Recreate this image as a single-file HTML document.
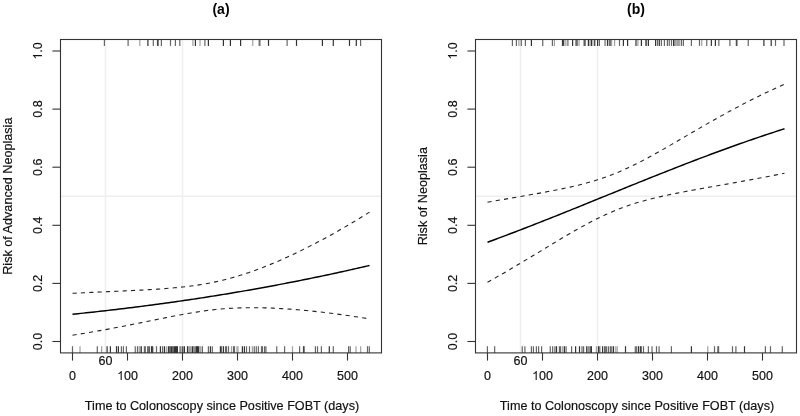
<!DOCTYPE html>
<html><head><meta charset="utf-8"><style>
html,body{margin:0;padding:0;background:#fff;width:800px;height:416px;overflow:hidden}
svg{display:block;filter:blur(0.4px)}
</style></head><body>
<svg width="800" height="416" viewBox="0 0 800 416"><rect width="800" height="416" fill="#fff"/><g stroke="#eeeeee" stroke-width="1.5" fill="none"><line x1="105.50" y1="39.5" x2="105.50" y2="352.9"/><line x1="182.50" y1="39.5" x2="182.50" y2="352.9"/><line x1="60.5" y1="196.25" x2="381.5" y2="196.25"/></g><g stroke-width="1.2"><line x1="104.40" y1="39.5" x2="104.40" y2="45.9" stroke="#666"/><line x1="128.10" y1="39.5" x2="128.10" y2="45.9" stroke="#666"/><line x1="139.80" y1="39.5" x2="139.80" y2="45.9" stroke="#a0a0a0"/><line x1="147.90" y1="39.5" x2="147.90" y2="45.9" stroke="#333"/><line x1="153.30" y1="39.5" x2="153.30" y2="45.9" stroke="#666"/><line x1="157.50" y1="39.5" x2="157.50" y2="45.9" stroke="#333"/><line x1="158.20" y1="39.5" x2="158.20" y2="45.9" stroke="#666"/><line x1="161.40" y1="39.5" x2="161.40" y2="45.9" stroke="#666"/><line x1="170.50" y1="39.5" x2="170.50" y2="45.9" stroke="#666"/><line x1="175.40" y1="39.5" x2="175.40" y2="45.9" stroke="#666"/><line x1="179.80" y1="39.5" x2="179.80" y2="45.9" stroke="#666"/><line x1="192.90" y1="39.5" x2="192.90" y2="45.9" stroke="#a0a0a0"/><line x1="195.40" y1="39.5" x2="195.40" y2="45.9" stroke="#333"/><line x1="200.00" y1="39.5" x2="200.00" y2="45.9" stroke="#a0a0a0"/><line x1="204.90" y1="39.5" x2="204.90" y2="45.9" stroke="#666"/><line x1="208.40" y1="39.5" x2="208.40" y2="45.9" stroke="#333"/><line x1="223.40" y1="39.5" x2="223.40" y2="45.9" stroke="#333"/><line x1="230.40" y1="39.5" x2="230.40" y2="45.9" stroke="#333"/><line x1="240.60" y1="39.5" x2="240.60" y2="45.9" stroke="#333"/><line x1="252.75" y1="39.5" x2="252.75" y2="45.9" stroke="#a0a0a0"/><line x1="259.20" y1="39.5" x2="259.20" y2="45.9" stroke="#666"/><line x1="259.90" y1="39.5" x2="259.90" y2="45.9" stroke="#666"/><line x1="268.50" y1="39.5" x2="268.50" y2="45.9" stroke="#333"/><line x1="287.10" y1="39.5" x2="287.10" y2="45.9" stroke="#666"/><line x1="296.50" y1="39.5" x2="296.50" y2="45.9" stroke="#333"/><line x1="322.40" y1="39.5" x2="322.40" y2="45.9" stroke="#333"/><line x1="333.30" y1="39.5" x2="333.30" y2="45.9" stroke="#333"/><line x1="349.50" y1="39.5" x2="349.50" y2="45.9" stroke="#333"/><line x1="356.30" y1="39.5" x2="356.30" y2="45.9" stroke="#333"/><line x1="360.60" y1="39.5" x2="360.60" y2="45.9" stroke="#666"/><line x1="72.50" y1="346.2" x2="72.50" y2="352.9" stroke="#666"/><line x1="80.00" y1="346.2" x2="80.00" y2="352.9" stroke="#a0a0a0"/><line x1="97.30" y1="346.2" x2="97.30" y2="352.9" stroke="#666"/><line x1="101.60" y1="346.2" x2="101.60" y2="352.9" stroke="#a0a0a0"/><line x1="107.10" y1="346.2" x2="107.10" y2="352.9" stroke="#333"/><line x1="110.40" y1="346.2" x2="110.40" y2="352.9" stroke="#333"/><line x1="116.50" y1="346.2" x2="116.50" y2="352.9" stroke="#333"/><line x1="118.40" y1="346.2" x2="118.40" y2="352.9" stroke="#333"/><line x1="121.40" y1="346.2" x2="121.40" y2="352.9" stroke="#666"/><line x1="123.40" y1="346.2" x2="123.40" y2="352.9" stroke="#666"/><line x1="126.40" y1="346.2" x2="126.40" y2="352.9" stroke="#666"/><line x1="135.25" y1="346.2" x2="135.25" y2="352.9" stroke="#666"/><line x1="137.50" y1="346.2" x2="137.50" y2="352.9" stroke="#666"/><line x1="139.20" y1="346.2" x2="139.20" y2="352.9" stroke="#a0a0a0"/><line x1="140.10" y1="346.2" x2="140.10" y2="352.9" stroke="#a0a0a0"/><line x1="141.30" y1="346.2" x2="141.30" y2="352.9" stroke="#333"/><line x1="144.40" y1="346.2" x2="144.40" y2="352.9" stroke="#666"/><line x1="145.30" y1="346.2" x2="145.30" y2="352.9" stroke="#666"/><line x1="147.90" y1="346.2" x2="147.90" y2="352.9" stroke="#333"/><line x1="149.20" y1="346.2" x2="149.20" y2="352.9" stroke="#333"/><line x1="151.50" y1="346.2" x2="151.50" y2="352.9" stroke="#333"/><line x1="152.70" y1="346.2" x2="152.70" y2="352.9" stroke="#333"/><line x1="156.50" y1="346.2" x2="156.50" y2="352.9" stroke="#666"/><line x1="160.40" y1="346.2" x2="160.40" y2="352.9" stroke="#333"/><line x1="162.50" y1="346.2" x2="162.50" y2="352.9" stroke="#666"/><line x1="164.40" y1="346.2" x2="164.40" y2="352.9" stroke="#333"/><line x1="166.25" y1="346.2" x2="166.25" y2="352.9" stroke="#a0a0a0"/><line x1="168.40" y1="346.2" x2="168.40" y2="352.9" stroke="#333"/><line x1="169.50" y1="346.2" x2="169.50" y2="352.9" stroke="#666"/><line x1="170.50" y1="346.2" x2="170.50" y2="352.9" stroke="#666"/><line x1="171.60" y1="346.2" x2="171.60" y2="352.9" stroke="#333"/><line x1="172.60" y1="346.2" x2="172.60" y2="352.9" stroke="#666"/><line x1="173.60" y1="346.2" x2="173.60" y2="352.9" stroke="#666"/><line x1="174.60" y1="346.2" x2="174.60" y2="352.9" stroke="#333"/><line x1="175.60" y1="346.2" x2="175.60" y2="352.9" stroke="#333"/><line x1="176.60" y1="346.2" x2="176.60" y2="352.9" stroke="#333"/><line x1="177.40" y1="346.2" x2="177.40" y2="352.9" stroke="#333"/><line x1="179.70" y1="346.2" x2="179.70" y2="352.9" stroke="#a0a0a0"/><line x1="180.90" y1="346.2" x2="180.90" y2="352.9" stroke="#666"/><line x1="182.80" y1="346.2" x2="182.80" y2="352.9" stroke="#333"/><line x1="184.40" y1="346.2" x2="184.40" y2="352.9" stroke="#333"/><line x1="187.50" y1="346.2" x2="187.50" y2="352.9" stroke="#333"/><line x1="188.70" y1="346.2" x2="188.70" y2="352.9" stroke="#a0a0a0"/><line x1="190.00" y1="346.2" x2="190.00" y2="352.9" stroke="#666"/><line x1="191.30" y1="346.2" x2="191.30" y2="352.9" stroke="#a0a0a0"/><line x1="192.60" y1="346.2" x2="192.60" y2="352.9" stroke="#333"/><line x1="194.00" y1="346.2" x2="194.00" y2="352.9" stroke="#666"/><line x1="195.20" y1="346.2" x2="195.20" y2="352.9" stroke="#666"/><line x1="196.50" y1="346.2" x2="196.50" y2="352.9" stroke="#333"/><line x1="197.50" y1="346.2" x2="197.50" y2="352.9" stroke="#333"/><line x1="198.40" y1="346.2" x2="198.40" y2="352.9" stroke="#333"/><line x1="199.80" y1="346.2" x2="199.80" y2="352.9" stroke="#a0a0a0"/><line x1="200.70" y1="346.2" x2="200.70" y2="352.9" stroke="#a0a0a0"/><line x1="202.40" y1="346.2" x2="202.40" y2="352.9" stroke="#666"/><line x1="208.40" y1="346.2" x2="208.40" y2="352.9" stroke="#666"/><line x1="210.40" y1="346.2" x2="210.40" y2="352.9" stroke="#333"/><line x1="212.30" y1="346.2" x2="212.30" y2="352.9" stroke="#666"/><line x1="220.40" y1="346.2" x2="220.40" y2="352.9" stroke="#333"/><line x1="221.50" y1="346.2" x2="221.50" y2="352.9" stroke="#666"/><line x1="223.40" y1="346.2" x2="223.40" y2="352.9" stroke="#333"/><line x1="225.50" y1="346.2" x2="225.50" y2="352.9" stroke="#666"/><line x1="226.50" y1="346.2" x2="226.50" y2="352.9" stroke="#666"/><line x1="228.50" y1="346.2" x2="228.50" y2="352.9" stroke="#666"/><line x1="231.50" y1="346.2" x2="231.50" y2="352.9" stroke="#a0a0a0"/><line x1="233.50" y1="346.2" x2="233.50" y2="352.9" stroke="#666"/><line x1="234.50" y1="346.2" x2="234.50" y2="352.9" stroke="#666"/><line x1="237.00" y1="346.2" x2="237.00" y2="352.9" stroke="#a0a0a0"/><line x1="238.00" y1="346.2" x2="238.00" y2="352.9" stroke="#a0a0a0"/><line x1="242.40" y1="346.2" x2="242.40" y2="352.9" stroke="#333"/><line x1="244.40" y1="346.2" x2="244.40" y2="352.9" stroke="#333"/><line x1="246.50" y1="346.2" x2="246.50" y2="352.9" stroke="#666"/><line x1="249.50" y1="346.2" x2="249.50" y2="352.9" stroke="#666"/><line x1="252.40" y1="346.2" x2="252.40" y2="352.9" stroke="#a0a0a0"/><line x1="254.25" y1="346.2" x2="254.25" y2="352.9" stroke="#666"/><line x1="256.30" y1="346.2" x2="256.30" y2="352.9" stroke="#666"/><line x1="258.40" y1="346.2" x2="258.40" y2="352.9" stroke="#666"/><line x1="261.50" y1="346.2" x2="261.50" y2="352.9" stroke="#666"/><line x1="262.50" y1="346.2" x2="262.50" y2="352.9" stroke="#666"/><line x1="264.60" y1="346.2" x2="264.60" y2="352.9" stroke="#666"/><line x1="265.90" y1="346.2" x2="265.90" y2="352.9" stroke="#666"/><line x1="276.75" y1="346.2" x2="276.75" y2="352.9" stroke="#666"/><line x1="284.60" y1="346.2" x2="284.60" y2="352.9" stroke="#666"/><line x1="292.50" y1="346.2" x2="292.50" y2="352.9" stroke="#a0a0a0"/><line x1="299.60" y1="346.2" x2="299.60" y2="352.9" stroke="#666"/><line x1="303.50" y1="346.2" x2="303.50" y2="352.9" stroke="#333"/><line x1="304.20" y1="346.2" x2="304.20" y2="352.9" stroke="#666"/><line x1="315.40" y1="346.2" x2="315.40" y2="352.9" stroke="#666"/><line x1="317.50" y1="346.2" x2="317.50" y2="352.9" stroke="#666"/><line x1="321.40" y1="346.2" x2="321.40" y2="352.9" stroke="#666"/><line x1="329.30" y1="346.2" x2="329.30" y2="352.9" stroke="#333"/><line x1="333.30" y1="346.2" x2="333.30" y2="352.9" stroke="#666"/><line x1="348.60" y1="346.2" x2="348.60" y2="352.9" stroke="#666"/><line x1="350.20" y1="346.2" x2="350.20" y2="352.9" stroke="#666"/><line x1="356.00" y1="346.2" x2="356.00" y2="352.9" stroke="#a0a0a0"/><line x1="360.70" y1="346.2" x2="360.70" y2="352.9" stroke="#a0a0a0"/><line x1="367.50" y1="346.2" x2="367.50" y2="352.9" stroke="#666"/><line x1="369.30" y1="346.2" x2="369.30" y2="352.9" stroke="#666"/></g><path d="M72.50,314.26 L75.25,313.98 L78.00,313.69 L80.75,313.40 L83.50,313.11 L86.25,312.82 L89.00,312.52 L91.75,312.22 L94.50,311.92 L97.25,311.62 L100.00,311.31 L102.75,311.00 L105.50,310.69 L108.25,310.37 L111.00,310.06 L113.75,309.74 L116.50,309.41 L119.25,309.09 L122.00,308.76 L124.75,308.42 L127.50,308.09 L130.25,307.75 L133.00,307.41 L135.75,307.06 L138.50,306.72 L141.25,306.37 L144.00,306.01 L146.75,305.65 L149.50,305.30 L152.25,304.93 L155.00,304.57 L157.75,304.20 L160.50,303.83 L163.25,303.45 L166.00,303.07 L168.75,302.69 L171.50,302.31 L174.25,301.92 L177.00,301.53 L179.75,301.13 L182.50,300.73 L185.25,300.33 L188.00,299.93 L190.75,299.52 L193.50,299.11 L196.25,298.70 L199.00,298.28 L201.75,297.86 L204.50,297.43 L207.25,297.00 L210.00,296.57 L212.75,296.14 L215.50,295.70 L218.25,295.26 L221.00,294.82 L223.75,294.37 L226.50,293.91 L229.25,293.46 L232.00,293.00 L234.75,292.54 L237.50,292.07 L240.25,291.60 L243.00,291.13 L245.75,290.65 L248.50,290.18 L251.25,289.69 L254.00,289.20 L256.75,288.71 L259.50,288.22 L262.25,287.72 L265.00,287.22 L267.75,286.72 L270.50,286.21 L273.25,285.70 L276.00,285.18 L278.75,284.66 L281.50,284.14 L284.25,283.61 L287.00,283.08 L289.75,282.55 L292.50,282.01 L295.25,281.47 L298.00,280.93 L300.75,280.38 L303.50,279.83 L306.25,279.27 L309.00,278.71 L311.75,278.15 L314.50,277.58 L317.25,277.01 L320.00,276.44 L322.75,275.86 L325.50,275.28 L328.25,274.70 L331.00,274.11 L333.75,273.52 L336.50,272.92 L339.25,272.32 L342.00,271.72 L344.75,271.11 L347.50,270.50 L350.25,269.89 L353.00,269.27 L355.75,268.65 L358.50,268.03 L361.25,267.40 L364.00,266.77 L366.75,266.14 L369.50,265.50" fill="none" stroke="#000" stroke-width="1.45"/><path d="M72.50,293.32 L75.25,293.19 L78.00,293.06 L80.75,292.93 L83.50,292.80 L86.25,292.67 L89.00,292.54 L91.75,292.41 L94.50,292.29 L97.25,292.16 L100.00,292.03 L102.75,291.91 L105.50,291.78 L108.25,291.66 L111.00,291.53 L113.75,291.41 L116.50,291.28 L119.25,291.16 L122.00,291.03 L124.75,290.90 L127.50,290.77 L130.25,290.63 L133.00,290.50 L135.75,290.36 L138.50,290.22 L141.25,290.08 L144.00,289.93 L146.75,289.77 L149.50,289.61 L152.25,289.45 L155.00,289.28 L157.75,289.10 L160.50,288.91 L163.25,288.72 L166.00,288.51 L168.75,288.29 L171.50,288.06 L174.25,287.82 L177.00,287.57 L179.75,287.30 L182.50,287.01 L185.25,286.70 L188.00,286.38 L190.75,286.03 L193.50,285.67 L196.25,285.28 L199.00,284.87 L201.75,284.43 L204.50,283.97 L207.25,283.48 L210.00,282.96 L212.75,282.41 L215.50,281.84 L218.25,281.23 L221.00,280.60 L223.75,279.94 L226.50,279.24 L229.25,278.52 L232.00,277.77 L234.75,276.98 L237.50,276.17 L240.25,275.33 L243.00,274.47 L245.75,273.57 L248.50,272.65 L251.25,271.70 L254.00,270.73 L256.75,269.73 L259.50,268.70 L262.25,267.65 L265.00,266.58 L267.75,265.49 L270.50,264.37 L273.25,263.23 L276.00,262.07 L278.75,260.89 L281.50,259.69 L284.25,258.47 L287.00,257.22 L289.75,255.96 L292.50,254.68 L295.25,253.38 L298.00,252.07 L300.75,250.73 L303.50,249.38 L306.25,248.01 L309.00,246.62 L311.75,245.22 L314.50,243.79 L317.25,242.36 L320.00,240.90 L322.75,239.43 L325.50,237.94 L328.25,236.44 L331.00,234.92 L333.75,233.39 L336.50,231.84 L339.25,230.28 L342.00,228.70 L344.75,227.11 L347.50,225.50 L350.25,223.88 L353.00,222.24 L355.75,220.60 L358.50,218.93 L361.25,217.26 L364.00,215.57 L366.75,213.86 L369.50,212.14" fill="none" stroke="#222" stroke-width="1.1" stroke-dasharray="4.18 4.18"/><path d="M72.50,335.20 L75.25,334.76 L78.00,334.33 L80.75,333.88 L83.50,333.43 L86.25,332.97 L89.00,332.51 L91.75,332.04 L94.50,331.56 L97.25,331.08 L100.00,330.59 L102.75,330.10 L105.50,329.60 L108.25,329.09 L111.00,328.58 L113.75,328.06 L116.50,327.54 L119.25,327.01 L122.00,326.48 L124.75,325.95 L127.50,325.41 L130.25,324.86 L133.00,324.32 L135.75,323.76 L138.50,323.21 L141.25,322.65 L144.00,322.10 L146.75,321.54 L149.50,320.98 L152.25,320.42 L155.00,319.86 L157.75,319.30 L160.50,318.74 L163.25,318.18 L166.00,317.63 L168.75,317.09 L171.50,316.55 L174.25,316.01 L177.00,315.49 L179.75,314.97 L182.50,314.46 L185.25,313.96 L188.00,313.48 L190.75,313.01 L193.50,312.55 L196.25,312.11 L199.00,311.69 L201.75,311.28 L204.50,310.90 L207.25,310.53 L210.00,310.19 L212.75,309.86 L215.50,309.56 L218.25,309.29 L221.00,309.03 L223.75,308.80 L226.50,308.59 L229.25,308.40 L232.00,308.24 L234.75,308.09 L237.50,307.97 L240.25,307.87 L243.00,307.80 L245.75,307.74 L248.50,307.70 L251.25,307.68 L254.00,307.68 L256.75,307.70 L259.50,307.74 L262.25,307.79 L265.00,307.86 L267.75,307.94 L270.50,308.04 L273.25,308.16 L276.00,308.29 L278.75,308.43 L281.50,308.59 L284.25,308.76 L287.00,308.94 L289.75,309.13 L292.50,309.34 L295.25,309.55 L298.00,309.78 L300.75,310.02 L303.50,310.27 L306.25,310.53 L309.00,310.80 L311.75,311.08 L314.50,311.37 L317.25,311.67 L320.00,311.97 L322.75,312.29 L325.50,312.62 L328.25,312.95 L331.00,313.29 L333.75,313.64 L336.50,314.00 L339.25,314.36 L342.00,314.74 L344.75,315.12 L347.50,315.50 L350.25,315.90 L353.00,316.30 L355.75,316.71 L358.50,317.13 L361.25,317.55 L364.00,317.98 L366.75,318.41 L369.50,318.85" fill="none" stroke="#222" stroke-width="1.1" stroke-dasharray="4.18 4.18"/><rect x="60.5" y="39.5" width="321.00" height="313.40" fill="none" stroke="#333" stroke-width="1.1"/><g stroke="#333" stroke-width="1.1"><line x1="72.50" y1="352.9" x2="72.50" y2="360.6"/><line x1="127.50" y1="352.9" x2="127.50" y2="360.6"/><line x1="182.50" y1="352.9" x2="182.50" y2="360.6"/><line x1="237.50" y1="352.9" x2="237.50" y2="360.6"/><line x1="292.50" y1="352.9" x2="292.50" y2="360.6"/><line x1="347.50" y1="352.9" x2="347.50" y2="360.6"/><line x1="52.40" y1="341.50" x2="60.5" y2="341.50"/><line x1="52.40" y1="283.40" x2="60.5" y2="283.40"/><line x1="52.40" y1="225.30" x2="60.5" y2="225.30"/><line x1="52.40" y1="167.20" x2="60.5" y2="167.20"/><line x1="52.40" y1="109.10" x2="60.5" y2="109.10"/><line x1="52.40" y1="51.00" x2="60.5" y2="51.00"/></g><g font-family='"Liberation Sans", sans-serif' font-size="12.5" fill="#111" stroke="#111" stroke-width="0.18"><g transform="translate(72.50,380)"><text x="-3.476" y="0">0</text></g><g transform="translate(127.50,380)"><path transform="translate(-10.428,0) scale(0.006104,-0.006104)" d="M583,1147 Q420,1010 223,930 V1104 Q540,1250 647,1472 H763 V0 H583 Z"/><text x="-3.476" y="0">00</text></g><g transform="translate(182.50,380)"><text x="-10.428" y="0">200</text></g><g transform="translate(237.50,380)"><text x="-10.428" y="0">300</text></g><g transform="translate(292.50,380)"><text x="-10.428" y="0">400</text></g><g transform="translate(347.50,380)"><text x="-10.428" y="0">500</text></g><text x="105.50" y="365.2" text-anchor="middle">60</text><g transform="translate(41.90,341.50) rotate(-90)"><text x="-8.688" y="0">0.0</text></g><g transform="translate(41.90,283.40) rotate(-90)"><text x="-8.688" y="0">0.2</text></g><g transform="translate(41.90,225.30) rotate(-90)"><text x="-8.688" y="0">0.4</text></g><g transform="translate(41.90,167.20) rotate(-90)"><text x="-8.688" y="0">0.6</text></g><g transform="translate(41.90,109.10) rotate(-90)"><text x="-8.688" y="0">0.8</text></g><g transform="translate(41.90,51.00) rotate(-90)"><path transform="translate(-8.688,0) scale(0.006104,-0.006104)" d="M583,1147 Q420,1010 223,930 V1104 Q540,1250 647,1472 H763 V0 H583 Z"/><text x="-1.736" y="0">.0</text></g><text x="222.00" y="409.8" text-anchor="middle" font-size="12.63">Time to Colonoscopy since Positive FOBT (days)</text><text transform="translate(12.40,196.20) rotate(-90)" text-anchor="middle" font-size="12.63">Risk of Advanced Neoplasia</text></g><text x="221.00" y="14" text-anchor="middle" font-family='"Liberation Sans", sans-serif' font-size="14" font-weight="bold" fill="#000">(a)</text><g stroke="#eeeeee" stroke-width="1.5" fill="none"><line x1="520.50" y1="39.5" x2="520.50" y2="352.9"/><line x1="597.50" y1="39.5" x2="597.50" y2="352.9"/><line x1="475.5" y1="196.25" x2="796.5" y2="196.25"/></g><g stroke-width="1.2"><line x1="512.40" y1="39.5" x2="512.40" y2="45.9" stroke="#666"/><line x1="516.40" y1="39.5" x2="516.40" y2="45.9" stroke="#666"/><line x1="518.90" y1="39.5" x2="518.90" y2="45.9" stroke="#a0a0a0"/><line x1="521.30" y1="39.5" x2="521.30" y2="45.9" stroke="#666"/><line x1="525.40" y1="39.5" x2="525.40" y2="45.9" stroke="#666"/><line x1="531.40" y1="39.5" x2="531.40" y2="45.9" stroke="#333"/><line x1="542.75" y1="39.5" x2="542.75" y2="45.9" stroke="#666"/><line x1="552.40" y1="39.5" x2="552.40" y2="45.9" stroke="#666"/><line x1="554.40" y1="39.5" x2="554.40" y2="45.9" stroke="#a0a0a0"/><line x1="562.50" y1="39.5" x2="562.50" y2="45.9" stroke="#333"/><line x1="563.70" y1="39.5" x2="563.70" y2="45.9" stroke="#333"/><line x1="565.80" y1="39.5" x2="565.80" y2="45.9" stroke="#a0a0a0"/><line x1="567.90" y1="39.5" x2="567.90" y2="45.9" stroke="#666"/><line x1="572.60" y1="39.5" x2="572.60" y2="45.9" stroke="#333"/><line x1="576.10" y1="39.5" x2="576.10" y2="45.9" stroke="#333"/><line x1="577.20" y1="39.5" x2="577.20" y2="45.9" stroke="#666"/><line x1="579.00" y1="39.5" x2="579.00" y2="45.9" stroke="#a0a0a0"/><line x1="584.20" y1="39.5" x2="584.20" y2="45.9" stroke="#333"/><line x1="585.20" y1="39.5" x2="585.20" y2="45.9" stroke="#666"/><line x1="588.40" y1="39.5" x2="588.40" y2="45.9" stroke="#333"/><line x1="589.90" y1="39.5" x2="589.90" y2="45.9" stroke="#a0a0a0"/><line x1="591.40" y1="39.5" x2="591.40" y2="45.9" stroke="#333"/><line x1="592.90" y1="39.5" x2="592.90" y2="45.9" stroke="#a0a0a0"/><line x1="594.75" y1="39.5" x2="594.75" y2="45.9" stroke="#333"/><line x1="597.60" y1="39.5" x2="597.60" y2="45.9" stroke="#333"/><line x1="599.40" y1="39.5" x2="599.40" y2="45.9" stroke="#666"/><line x1="604.80" y1="39.5" x2="604.80" y2="45.9" stroke="#a0a0a0"/><line x1="605.40" y1="39.5" x2="605.40" y2="45.9" stroke="#a0a0a0"/><line x1="607.50" y1="39.5" x2="607.50" y2="45.9" stroke="#333"/><line x1="609.30" y1="39.5" x2="609.30" y2="45.9" stroke="#666"/><line x1="610.30" y1="39.5" x2="610.30" y2="45.9" stroke="#666"/><line x1="611.60" y1="39.5" x2="611.60" y2="45.9" stroke="#a0a0a0"/><line x1="614.60" y1="39.5" x2="614.60" y2="45.9" stroke="#a0a0a0"/><line x1="619.50" y1="39.5" x2="619.50" y2="45.9" stroke="#666"/><line x1="623.40" y1="39.5" x2="623.40" y2="45.9" stroke="#333"/><line x1="627.60" y1="39.5" x2="627.60" y2="45.9" stroke="#333"/><line x1="636.00" y1="39.5" x2="636.00" y2="45.9" stroke="#333"/><line x1="637.90" y1="39.5" x2="637.90" y2="45.9" stroke="#a0a0a0"/><line x1="641.40" y1="39.5" x2="641.40" y2="45.9" stroke="#333"/><line x1="645.75" y1="39.5" x2="645.75" y2="45.9" stroke="#666"/><line x1="646.50" y1="39.5" x2="646.50" y2="45.9" stroke="#666"/><line x1="648.40" y1="39.5" x2="648.40" y2="45.9" stroke="#333"/><line x1="655.60" y1="39.5" x2="655.60" y2="45.9" stroke="#333"/><line x1="657.50" y1="39.5" x2="657.50" y2="45.9" stroke="#666"/><line x1="659.30" y1="39.5" x2="659.30" y2="45.9" stroke="#333"/><line x1="661.40" y1="39.5" x2="661.40" y2="45.9" stroke="#666"/><line x1="664.40" y1="39.5" x2="664.40" y2="45.9" stroke="#666"/><line x1="667.40" y1="39.5" x2="667.40" y2="45.9" stroke="#666"/><line x1="669.25" y1="39.5" x2="669.25" y2="45.9" stroke="#666"/><line x1="671.50" y1="39.5" x2="671.50" y2="45.9" stroke="#666"/><line x1="673.60" y1="39.5" x2="673.60" y2="45.9" stroke="#333"/><line x1="675.00" y1="39.5" x2="675.00" y2="45.9" stroke="#666"/><line x1="676.20" y1="39.5" x2="676.20" y2="45.9" stroke="#a0a0a0"/><line x1="677.40" y1="39.5" x2="677.40" y2="45.9" stroke="#a0a0a0"/><line x1="678.60" y1="39.5" x2="678.60" y2="45.9" stroke="#a0a0a0"/><line x1="679.70" y1="39.5" x2="679.70" y2="45.9" stroke="#a0a0a0"/><line x1="681.50" y1="39.5" x2="681.50" y2="45.9" stroke="#666"/><line x1="683.40" y1="39.5" x2="683.40" y2="45.9" stroke="#666"/><line x1="691.40" y1="39.5" x2="691.40" y2="45.9" stroke="#666"/><line x1="699.50" y1="39.5" x2="699.50" y2="45.9" stroke="#666"/><line x1="701.75" y1="39.5" x2="701.75" y2="45.9" stroke="#a0a0a0"/><line x1="706.75" y1="39.5" x2="706.75" y2="45.9" stroke="#666"/><line x1="711.35" y1="39.5" x2="711.35" y2="45.9" stroke="#333"/><line x1="715.40" y1="39.5" x2="715.40" y2="45.9" stroke="#333"/><line x1="718.85" y1="39.5" x2="718.85" y2="45.9" stroke="#666"/><line x1="729.90" y1="39.5" x2="729.90" y2="45.9" stroke="#666"/><line x1="736.40" y1="39.5" x2="736.40" y2="45.9" stroke="#333"/><line x1="737.00" y1="39.5" x2="737.00" y2="45.9" stroke="#666"/><line x1="748.25" y1="39.5" x2="748.25" y2="45.9" stroke="#666"/><line x1="763.90" y1="39.5" x2="763.90" y2="45.9" stroke="#333"/><line x1="771.20" y1="39.5" x2="771.20" y2="45.9" stroke="#333"/><line x1="775.50" y1="39.5" x2="775.50" y2="45.9" stroke="#666"/><line x1="784.00" y1="39.5" x2="784.00" y2="45.9" stroke="#666"/><line x1="487.40" y1="346.2" x2="487.40" y2="352.9" stroke="#666"/><line x1="494.65" y1="346.2" x2="494.65" y2="352.9" stroke="#666"/><line x1="522.25" y1="346.2" x2="522.25" y2="352.9" stroke="#666"/><line x1="524.90" y1="346.2" x2="524.90" y2="352.9" stroke="#666"/><line x1="531.40" y1="346.2" x2="531.40" y2="352.9" stroke="#666"/><line x1="533.40" y1="346.2" x2="533.40" y2="352.9" stroke="#666"/><line x1="536.40" y1="346.2" x2="536.40" y2="352.9" stroke="#666"/><line x1="538.60" y1="346.2" x2="538.60" y2="352.9" stroke="#666"/><line x1="541.60" y1="346.2" x2="541.60" y2="352.9" stroke="#666"/><line x1="550.25" y1="346.2" x2="550.25" y2="352.9" stroke="#666"/><line x1="552.65" y1="346.2" x2="552.65" y2="352.9" stroke="#666"/><line x1="554.90" y1="346.2" x2="554.90" y2="352.9" stroke="#666"/><line x1="556.50" y1="346.2" x2="556.50" y2="352.9" stroke="#333"/><line x1="559.40" y1="346.2" x2="559.40" y2="352.9" stroke="#666"/><line x1="560.60" y1="346.2" x2="560.60" y2="352.9" stroke="#666"/><line x1="562.70" y1="346.2" x2="562.70" y2="352.9" stroke="#a0a0a0"/><line x1="564.40" y1="346.2" x2="564.40" y2="352.9" stroke="#333"/><line x1="566.10" y1="346.2" x2="566.10" y2="352.9" stroke="#666"/><line x1="571.60" y1="346.2" x2="571.60" y2="352.9" stroke="#666"/><line x1="575.60" y1="346.2" x2="575.60" y2="352.9" stroke="#333"/><line x1="579.50" y1="346.2" x2="579.50" y2="352.9" stroke="#333"/><line x1="582.00" y1="346.2" x2="582.00" y2="352.9" stroke="#666"/><line x1="583.60" y1="346.2" x2="583.60" y2="352.9" stroke="#666"/><line x1="586.70" y1="346.2" x2="586.70" y2="352.9" stroke="#333"/><line x1="588.20" y1="346.2" x2="588.20" y2="352.9" stroke="#666"/><line x1="589.40" y1="346.2" x2="589.40" y2="352.9" stroke="#a0a0a0"/><line x1="590.50" y1="346.2" x2="590.50" y2="352.9" stroke="#666"/><line x1="591.40" y1="346.2" x2="591.40" y2="352.9" stroke="#333"/><line x1="596.40" y1="346.2" x2="596.40" y2="352.9" stroke="#a0a0a0"/><line x1="598.50" y1="346.2" x2="598.50" y2="352.9" stroke="#333"/><line x1="599.80" y1="346.2" x2="599.80" y2="352.9" stroke="#666"/><line x1="602.60" y1="346.2" x2="602.60" y2="352.9" stroke="#333"/><line x1="604.60" y1="346.2" x2="604.60" y2="352.9" stroke="#666"/><line x1="605.70" y1="346.2" x2="605.70" y2="352.9" stroke="#666"/><line x1="606.70" y1="346.2" x2="606.70" y2="352.9" stroke="#666"/><line x1="608.60" y1="346.2" x2="608.60" y2="352.9" stroke="#666"/><line x1="610.50" y1="346.2" x2="610.50" y2="352.9" stroke="#666"/><line x1="611.80" y1="346.2" x2="611.80" y2="352.9" stroke="#666"/><line x1="613.50" y1="346.2" x2="613.50" y2="352.9" stroke="#333"/><line x1="615.80" y1="346.2" x2="615.80" y2="352.9" stroke="#a0a0a0"/><line x1="617.20" y1="346.2" x2="617.20" y2="352.9" stroke="#a0a0a0"/><line x1="625.50" y1="346.2" x2="625.50" y2="352.9" stroke="#333"/><line x1="635.30" y1="346.2" x2="635.30" y2="352.9" stroke="#666"/><line x1="636.70" y1="346.2" x2="636.70" y2="352.9" stroke="#666"/><line x1="638.60" y1="346.2" x2="638.60" y2="352.9" stroke="#333"/><line x1="640.50" y1="346.2" x2="640.50" y2="352.9" stroke="#333"/><line x1="641.30" y1="346.2" x2="641.30" y2="352.9" stroke="#666"/><line x1="643.50" y1="346.2" x2="643.50" y2="352.9" stroke="#666"/><line x1="648.40" y1="346.2" x2="648.40" y2="352.9" stroke="#666"/><line x1="652.00" y1="346.2" x2="652.00" y2="352.9" stroke="#666"/><line x1="656.50" y1="346.2" x2="656.50" y2="352.9" stroke="#666"/><line x1="659.10" y1="346.2" x2="659.10" y2="352.9" stroke="#666"/><line x1="671.40" y1="346.2" x2="671.40" y2="352.9" stroke="#666"/><line x1="691.40" y1="346.2" x2="691.40" y2="352.9" stroke="#333"/><line x1="707.80" y1="346.2" x2="707.80" y2="352.9" stroke="#a0a0a0"/><line x1="714.50" y1="346.2" x2="714.50" y2="352.9" stroke="#666"/><line x1="718.00" y1="346.2" x2="718.00" y2="352.9" stroke="#333"/><line x1="718.60" y1="346.2" x2="718.60" y2="352.9" stroke="#666"/><line x1="732.50" y1="346.2" x2="732.50" y2="352.9" stroke="#666"/><line x1="735.90" y1="346.2" x2="735.90" y2="352.9" stroke="#666"/><line x1="744.50" y1="346.2" x2="744.50" y2="352.9" stroke="#333"/><line x1="765.40" y1="346.2" x2="765.40" y2="352.9" stroke="#666"/><line x1="770.50" y1="346.2" x2="770.50" y2="352.9" stroke="#666"/><line x1="782.30" y1="346.2" x2="782.30" y2="352.9" stroke="#666"/></g><path d="M487.50,242.24 L490.25,241.23 L493.00,240.21 L495.75,239.20 L498.50,238.17 L501.25,237.15 L504.00,236.12 L506.75,235.08 L509.50,234.04 L512.25,233.00 L515.00,231.95 L517.75,230.90 L520.50,229.84 L523.25,228.78 L526.00,227.72 L528.75,226.65 L531.50,225.58 L534.25,224.51 L537.00,223.43 L539.75,222.35 L542.50,221.27 L545.25,220.18 L548.00,219.09 L550.75,218.00 L553.50,216.91 L556.25,215.81 L559.00,214.71 L561.75,213.61 L564.50,212.51 L567.25,211.40 L570.00,210.30 L572.75,209.19 L575.50,208.08 L578.25,206.97 L581.00,205.85 L583.75,204.74 L586.50,203.63 L589.25,202.51 L592.00,201.40 L594.75,200.28 L597.50,199.16 L600.25,198.04 L603.00,196.93 L605.75,195.81 L608.50,194.69 L611.25,193.57 L614.00,192.46 L616.75,191.34 L619.50,190.22 L622.25,189.11 L625.00,187.99 L627.75,186.88 L630.50,185.77 L633.25,184.66 L636.00,183.55 L638.75,182.44 L641.50,181.33 L644.25,180.23 L647.00,179.12 L649.75,178.02 L652.50,176.92 L655.25,175.83 L658.00,174.73 L660.75,173.64 L663.50,172.55 L666.25,171.46 L669.00,170.38 L671.75,169.30 L674.50,168.22 L677.25,167.15 L680.00,166.08 L682.75,165.01 L685.50,163.94 L688.25,162.88 L691.00,161.83 L693.75,160.77 L696.50,159.72 L699.25,158.68 L702.00,157.64 L704.75,156.60 L707.50,155.57 L710.25,154.54 L713.00,153.52 L715.75,152.50 L718.50,151.49 L721.25,150.48 L724.00,149.47 L726.75,148.47 L729.50,147.48 L732.25,146.49 L735.00,145.51 L737.75,144.53 L740.50,143.55 L743.25,142.59 L746.00,141.62 L748.75,140.67 L751.50,139.72 L754.25,138.77 L757.00,137.83 L759.75,136.90 L762.50,135.97 L765.25,135.05 L768.00,134.13 L770.75,133.22 L773.50,132.32 L776.25,131.42 L779.00,130.52 L781.75,129.64 L784.50,128.76" fill="none" stroke="#000" stroke-width="1.45"/><path d="M487.50,202.23 L490.25,201.74 L493.00,201.25 L495.75,200.77 L498.50,200.29 L501.25,199.81 L504.00,199.34 L506.75,198.86 L509.50,198.38 L512.25,197.91 L515.00,197.44 L517.75,196.96 L520.50,196.49 L523.25,196.01 L526.00,195.53 L528.75,195.05 L531.50,194.57 L534.25,194.08 L537.00,193.59 L539.75,193.10 L542.50,192.60 L545.25,192.09 L548.00,191.58 L550.75,191.06 L553.50,190.53 L556.25,189.99 L559.00,189.44 L561.75,188.88 L564.50,188.30 L567.25,187.71 L570.00,187.11 L572.75,186.48 L575.50,185.84 L578.25,185.17 L581.00,184.49 L583.75,183.78 L586.50,183.04 L589.25,182.28 L592.00,181.48 L594.75,180.66 L597.50,179.80 L600.25,178.91 L603.00,177.99 L605.75,177.03 L608.50,176.03 L611.25,174.99 L614.00,173.92 L616.75,172.80 L619.50,171.65 L622.25,170.47 L625.00,169.24 L627.75,167.98 L630.50,166.69 L633.25,165.36 L636.00,164.00 L638.75,162.61 L641.50,161.20 L644.25,159.76 L647.00,158.29 L649.75,156.80 L652.50,155.30 L655.25,153.78 L658.00,152.24 L660.75,150.69 L663.50,149.12 L666.25,147.55 L669.00,145.96 L671.75,144.37 L674.50,142.78 L677.25,141.18 L680.00,139.58 L682.75,137.97 L685.50,136.37 L688.25,134.76 L691.00,133.16 L693.75,131.56 L696.50,129.96 L699.25,128.37 L702.00,126.79 L704.75,125.20 L707.50,123.63 L710.25,122.06 L713.00,120.51 L715.75,118.95 L718.50,117.41 L721.25,115.88 L724.00,114.36 L726.75,112.85 L729.50,111.35 L732.25,109.87 L735.00,108.39 L737.75,106.93 L740.50,105.48 L743.25,104.04 L746.00,102.62 L748.75,101.21 L751.50,99.81 L754.25,98.43 L757.00,97.06 L759.75,95.71 L762.50,94.38 L765.25,93.05 L768.00,91.75 L770.75,90.45 L773.50,89.18 L776.25,87.92 L779.00,86.68 L781.75,85.45 L784.50,84.24" fill="none" stroke="#222" stroke-width="1.1" stroke-dasharray="4.18 4.18"/><path d="M487.50,282.25 L490.25,280.72 L493.00,279.18 L495.75,277.62 L498.50,276.06 L501.25,274.48 L504.00,272.90 L506.75,271.30 L509.50,269.70 L512.25,268.08 L515.00,266.46 L517.75,264.83 L520.50,263.19 L523.25,261.55 L526.00,259.90 L528.75,258.25 L531.50,256.59 L534.25,254.93 L537.00,253.26 L539.75,251.60 L542.50,249.93 L545.25,248.26 L548.00,246.60 L550.75,244.94 L553.50,243.28 L556.25,241.63 L559.00,239.98 L561.75,238.34 L564.50,236.71 L567.25,235.09 L570.00,233.49 L572.75,231.89 L575.50,230.32 L578.25,228.76 L581.00,227.22 L583.75,225.71 L586.50,224.21 L589.25,222.75 L592.00,221.31 L594.75,219.90 L597.50,218.52 L600.25,217.18 L603.00,215.87 L605.75,214.59 L608.50,213.36 L611.25,212.16 L614.00,211.00 L616.75,209.88 L619.50,208.79 L622.25,207.75 L625.00,206.75 L627.75,205.78 L630.50,204.85 L633.25,203.95 L636.00,203.09 L638.75,202.26 L641.50,201.47 L644.25,200.70 L647.00,199.96 L649.75,199.24 L652.50,198.55 L655.25,197.88 L658.00,197.23 L660.75,196.59 L663.50,195.98 L666.25,195.38 L669.00,194.80 L671.75,194.22 L674.50,193.66 L677.25,193.12 L680.00,192.58 L682.75,192.04 L685.50,191.52 L688.25,191.00 L691.00,190.49 L693.75,189.99 L696.50,189.48 L699.25,188.99 L702.00,188.49 L704.75,188.00 L707.50,187.51 L710.25,187.02 L713.00,186.53 L715.75,186.04 L718.50,185.56 L721.25,185.07 L724.00,184.58 L726.75,184.09 L729.50,183.60 L732.25,183.11 L735.00,182.62 L737.75,182.13 L740.50,181.63 L743.25,181.13 L746.00,180.63 L748.75,180.13 L751.50,179.62 L754.25,179.11 L757.00,178.60 L759.75,178.08 L762.50,177.56 L765.25,177.04 L768.00,176.51 L770.75,175.98 L773.50,175.45 L776.25,174.91 L779.00,174.37 L781.75,173.83 L784.50,173.28" fill="none" stroke="#222" stroke-width="1.1" stroke-dasharray="4.18 4.18"/><rect x="475.5" y="39.5" width="321.00" height="313.40" fill="none" stroke="#333" stroke-width="1.1"/><g stroke="#333" stroke-width="1.1"><line x1="487.50" y1="352.9" x2="487.50" y2="360.6"/><line x1="542.50" y1="352.9" x2="542.50" y2="360.6"/><line x1="597.50" y1="352.9" x2="597.50" y2="360.6"/><line x1="652.50" y1="352.9" x2="652.50" y2="360.6"/><line x1="707.50" y1="352.9" x2="707.50" y2="360.6"/><line x1="762.50" y1="352.9" x2="762.50" y2="360.6"/><line x1="467.40" y1="341.50" x2="475.5" y2="341.50"/><line x1="467.40" y1="283.40" x2="475.5" y2="283.40"/><line x1="467.40" y1="225.30" x2="475.5" y2="225.30"/><line x1="467.40" y1="167.20" x2="475.5" y2="167.20"/><line x1="467.40" y1="109.10" x2="475.5" y2="109.10"/><line x1="467.40" y1="51.00" x2="475.5" y2="51.00"/></g><g font-family='"Liberation Sans", sans-serif' font-size="12.5" fill="#111" stroke="#111" stroke-width="0.18"><g transform="translate(487.50,380)"><text x="-3.476" y="0">0</text></g><g transform="translate(542.50,380)"><path transform="translate(-10.428,0) scale(0.006104,-0.006104)" d="M583,1147 Q420,1010 223,930 V1104 Q540,1250 647,1472 H763 V0 H583 Z"/><text x="-3.476" y="0">00</text></g><g transform="translate(597.50,380)"><text x="-10.428" y="0">200</text></g><g transform="translate(652.50,380)"><text x="-10.428" y="0">300</text></g><g transform="translate(707.50,380)"><text x="-10.428" y="0">400</text></g><g transform="translate(762.50,380)"><text x="-10.428" y="0">500</text></g><text x="520.50" y="365.2" text-anchor="middle">60</text><g transform="translate(456.90,341.50) rotate(-90)"><text x="-8.688" y="0">0.0</text></g><g transform="translate(456.90,283.40) rotate(-90)"><text x="-8.688" y="0">0.2</text></g><g transform="translate(456.90,225.30) rotate(-90)"><text x="-8.688" y="0">0.4</text></g><g transform="translate(456.90,167.20) rotate(-90)"><text x="-8.688" y="0">0.6</text></g><g transform="translate(456.90,109.10) rotate(-90)"><text x="-8.688" y="0">0.8</text></g><g transform="translate(456.90,51.00) rotate(-90)"><path transform="translate(-8.688,0) scale(0.006104,-0.006104)" d="M583,1147 Q420,1010 223,930 V1104 Q540,1250 647,1472 H763 V0 H583 Z"/><text x="-1.736" y="0">.0</text></g><text x="637.00" y="409.8" text-anchor="middle" font-size="12.63">Time to Colonoscopy since Positive FOBT (days)</text><text transform="translate(427.40,196.20) rotate(-90)" text-anchor="middle" font-size="12.63">Risk of Neoplasia</text></g><text x="636.00" y="14" text-anchor="middle" font-family='"Liberation Sans", sans-serif' font-size="14" font-weight="bold" fill="#000">(b)</text></svg>
</body></html>
